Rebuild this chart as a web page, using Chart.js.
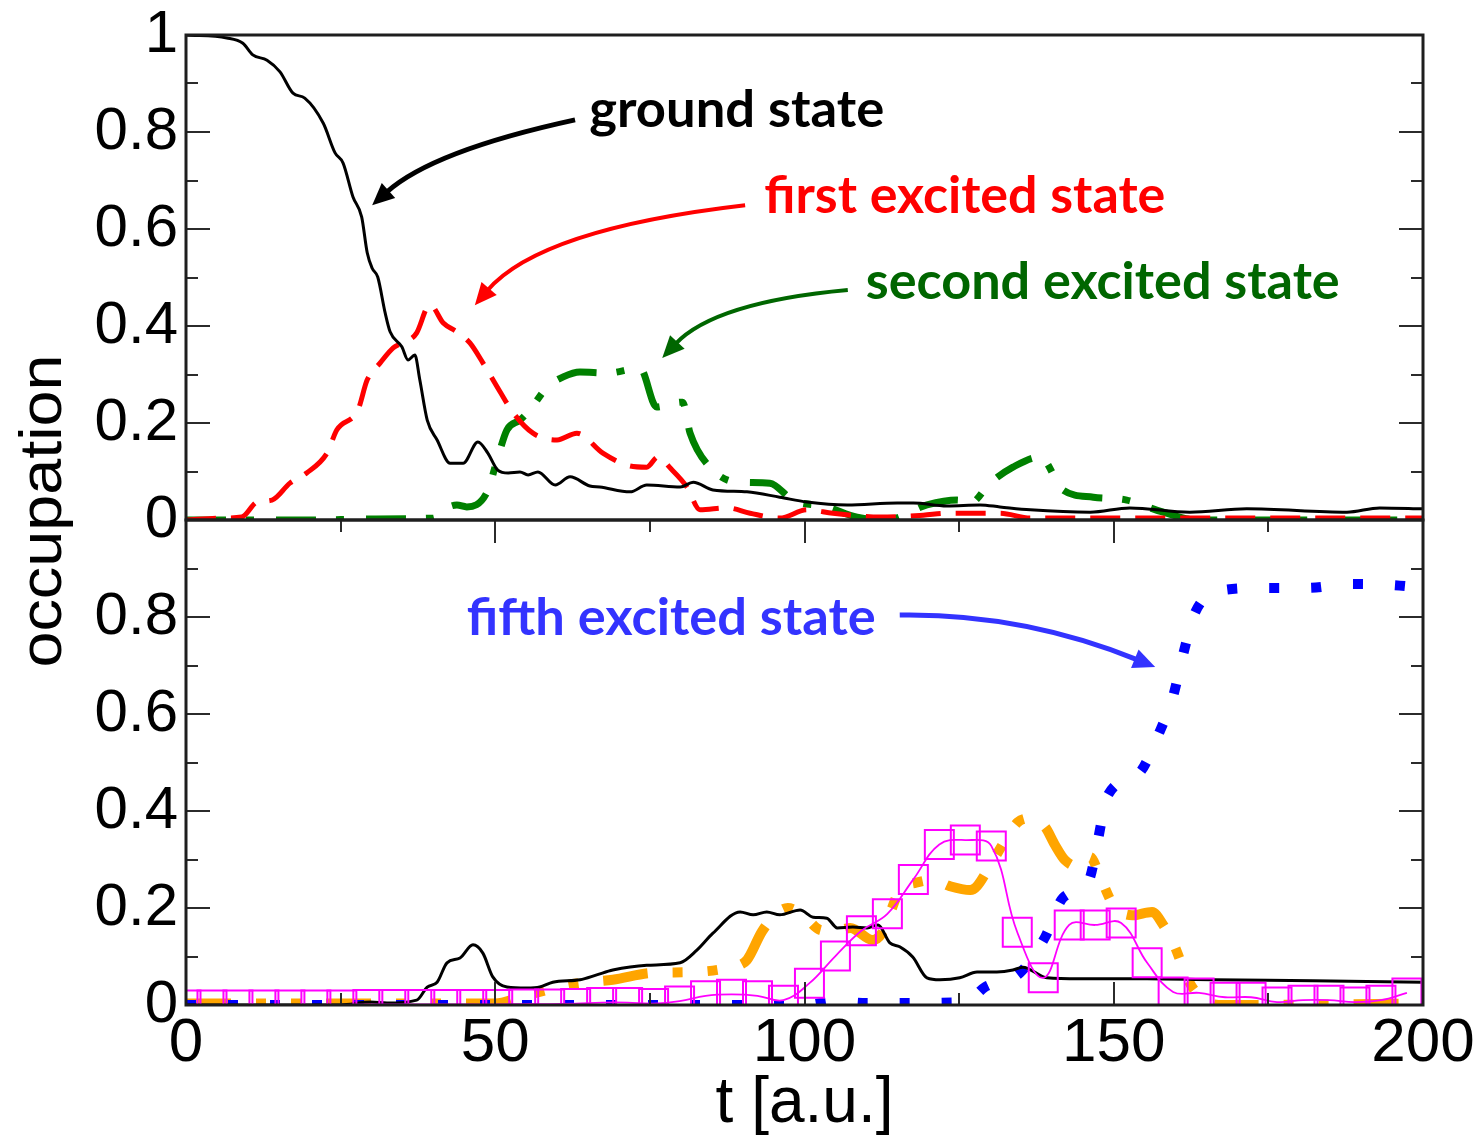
<!DOCTYPE html>
<html>
<head>
<meta charset="utf-8">
<script src="https://cdn.jsdelivr.net/npm/chart.js@4.4.1/dist/chart.umd.min.js"></script>
<style>
  html, body { margin: 0; padding: 0; background: #ffffff; }
  #wrap { width: 1483px; height: 1143px; }
</style>
</head>
<body>
<div id="wrap"><canvas id="occ" width="1483" height="1143"></canvas></div>
<script>
// ---- upper panel: time (a.u.) and occupations ----
const groundT = [0, 6.6, 9.2, 10.8, 13.1, 15.2, 17.3, 19.2, 22.2, 24.1, 25.4, 27.0, 28.4, 29.3, 30.1, 31.0, 32.2, 33.0, 34.9, 35.9, 37.0, 37.8, 39.0, 40.6, 42.7, 44.8, 47.2, 48.8, 50.4, 52.1, 54.0, 55.3, 56.9, 59.7, 62.1, 65.3, 66.9, 71.8, 74.5, 79.9, 82.0, 85.2, 90.7, 96.0, 100.4, 106.9, 115.0, 117.6, 123.0, 128.4, 131.6, 136.5, 146.2, 152.6, 162.3, 171.5, 187.7, 193.0, 200];
const groundV = [1.0, 0.994, 0.983, 0.959, 0.948, 0.924, 0.880, 0.870, 0.818, 0.757, 0.736, 0.666, 0.625, 0.551, 0.519, 0.501, 0.427, 0.388, 0.357, 0.330, 0.340, 0.289, 0.206, 0.165, 0.117, 0.117, 0.161, 0.138, 0.103, 0.097, 0.099, 0.093, 0.099, 0.072, 0.089, 0.070, 0.068, 0.058, 0.072, 0.068, 0.078, 0.062, 0.058, 0.047, 0.037, 0.031, 0.035, 0.035, 0.029, 0.031, 0.027, 0.021, 0.016, 0.025, 0.016, 0.023, 0.016, 0.025, 0.023];

const firstT = [0, 5.5, 9, 11.5, 13.9, 16.8, 19.5, 22.8, 24.4, 27.8, 29.3, 31.4, 33.5, 34.9, 37.3, 39.0, 39.5, 41.6, 43.8, 45.9, 48.0, 50.8, 52.9, 56.1, 60.0, 63.2, 67.4, 71.3, 74.5, 76.3, 78.3, 81.0, 83.1, 87.5, 91.2, 96.0, 100.4, 104.6, 112.2, 119.2, 123.0, 127.2, 131.6, 136.5, 150, 170, 200];
const firstV = [0, 0.004, 0.006, 0.037, 0.041, 0.076, 0.097, 0.138, 0.186, 0.227, 0.289, 0.324, 0.355, 0.365, 0.386, 0.439, 0.443, 0.406, 0.388, 0.365, 0.324, 0.264, 0.221, 0.179, 0.165, 0.179, 0.138, 0.113, 0.109, 0.130, 0.107, 0.068, 0.021, 0.025, 0.014, 0.004, 0.021, 0.014, 0.006, 0.010, 0.014, 0.014, 0.014, 0.004, 0.004, 0.004, 0.004];

const secondT = [0, 20, 30, 40, 41.6, 43.8, 45.4, 48.7, 50.3, 51.9, 54, 55.6, 58.4, 61, 63.7, 68.1, 73.4, 76.1, 78.5, 80.3, 81.5, 84.7, 89.1, 94.4, 98.1, 103.6, 108.5, 113.3, 119.8, 124.7, 126.8, 130, 133.7, 138.1, 141.8, 146.7, 152.1, 158, 163.5, 180, 200];
const secondV = [0, 0, 0.002, 0.004, 0.021, 0.031, 0.027, 0.058, 0.124, 0.186, 0.206, 0.227, 0.274, 0.295, 0.305, 0.303, 0.313, 0.233, 0.240, 0.243, 0.179, 0.109, 0.078, 0.076, 0.041, 0.027, 0.006, 0.0, 0.031, 0.041, 0.035, 0.076, 0.109, 0.130, 0.062, 0.047, 0.041, 0.016, 0.0, 0.0, 0.0];

// ---- lower panel ----
const thirdT = [0, 25, 29.8, 32.5, 37.3, 39.0, 40.6, 42.2, 44.3, 46.4, 48.0, 49.6, 51.9, 55.1, 57.2, 59.3, 63.7, 66.4, 69.0, 74.5, 79.9, 82.6, 85.2, 89.6, 91.7, 93.9, 96.0, 99.3, 101.4, 103.6, 105.3, 107.8, 110.1, 111.9, 113.8, 115.4, 117.5, 119.8, 121.9, 125.1, 127.9, 131.1, 133.7, 135.3, 139.2, 144.5, 155.4, 166, 182.2, 200];
const thirdV = [0, 0, 0.006, 0.004, 0.010, 0.037, 0.047, 0.087, 0.097, 0.124, 0.107, 0.058, 0.037, 0.035, 0.037, 0.047, 0.052, 0.062, 0.072, 0.082, 0.087, 0.113, 0.148, 0.192, 0.186, 0.192, 0.186, 0.196, 0.181, 0.179, 0.159, 0.161, 0.159, 0.165, 0.128, 0.120, 0.099, 0.056, 0.052, 0.056, 0.068, 0.068, 0.072, 0.078, 0.056, 0.054, 0.054, 0.052, 0.050, 0.047];

const fourthT = [0, 50, 54.3, 58, 61.4, 64.7, 69, 75.3, 82, 88, 90.7, 93.1, 95.2, 97.3, 99.8, 102.5, 105, 107.4, 111, 112.5, 114, 115.4, 118, 120.8, 123.5, 126.8, 130.8, 132.7, 134.5, 136.7, 138.9, 140.5, 142.1, 144.5, 146.2, 147.8, 150, 153, 156.2, 158, 159.6, 162.3, 164.5, 167, 200];
const fourthV = [0.003, 0.003, 0.017, 0.030, 0.041, 0.047, 0.052, 0.066, 0.068, 0.078, 0.093, 0.151, 0.185, 0.200, 0.185, 0.155, 0.152, 0.159, 0.134, 0.148, 0.195, 0.237, 0.252, 0.258, 0.245, 0.237, 0.305, 0.345, 0.377, 0.385, 0.367, 0.330, 0.299, 0.285, 0.305, 0.264, 0.205, 0.185, 0.192, 0.165, 0.128, 0.045, 0.012, 0.0, 0.003];

const fifthT = [0, 100, 105, 110, 126, 129.2, 134.8, 138.9, 141.8, 146.0, 147.5, 148.9, 154.1, 157.2, 159.6, 161.2, 163.1, 168.0, 174.8, 181.4, 188.2, 195.0, 200];
const fifthV = [0, 0, 0.008, 0.004, 0.006, 0.037, 0.066, 0.140, 0.221, 0.258, 0.344, 0.429, 0.478, 0.557, 0.637, 0.722, 0.808, 0.856, 0.860, 0.860, 0.868, 0.866, 0.860];

const squaresT = [0, 4.2, 8.4, 12.6, 16.8, 21, 25.2, 29.4, 33.6, 37.8, 42, 46.2, 50.4, 54.6, 58.8, 63, 67.2, 71.4, 75.6, 79.8, 84, 88.2, 92.4, 96.6, 100.8, 105, 109.2, 113.4, 117.6, 121.8, 126, 130.2, 134.4, 138.6, 142.8, 147, 151.2, 155.4, 159.6, 163.8, 168, 172.2, 176.4, 180.6, 184.8, 189, 193.2, 197.4];
const squaresV = [0, 0, 0, 0, 0, 0, 0, 0.001, 0.001, 0.001, 0.001, 0.001, 0.001, 0.002, 0.002, 0.003, 0.005, 0.005, 0.003, 0.008, 0.019, 0.022, 0.019, 0.010, 0.045, 0.101, 0.153, 0.188, 0.259, 0.331, 0.340, 0.328, 0.150, 0.056, 0.165, 0.165, 0.169, 0.087, 0.027, 0.025, 0.016, 0.016, 0.006, 0.010, 0.010, 0.006, 0.010, 0.025];

// axis ticks
const xLabelTicks = [0, 50, 100, 150, 200];
const xMinorTicks = [25, 75, 125, 175];
const xMajorInner = [50, 100, 150];
const yTopLabelTicks = [0, 0.2, 0.4, 0.6, 0.8, 1];
const yBotLabelTicks = [0, 0.2, 0.4, 0.6, 0.8];
const yMajorInner = [0.2, 0.4, 0.6, 0.8];
const yMinorInner = [0.1, 0.3, 0.5, 0.7, 0.9];

// callouts: text, colour, text anchor (t, occupation), arrow start / control / tip
const callouts = [
  { text: 'ground state', color: '#000000', panel: 'yTop', at: [65.2, 0.810], width: 295,
    arrow: [[62.9, 0.825], [39.8, 0.761], [30.1, 0.649]], lw: 5 },
  { text: 'first excited state', color: '#ff0000', panel: 'yTop', at: [93.5, 0.633], width: 401,
    arrow: [[90.4, 0.649], [57.2, 0.600], [46.7, 0.443]], lw: 4 },
  { text: 'second excited state', color: '#006600', panel: 'yTop', at: [109.9, 0.456], width: 474,
    arrow: [[107.0, 0.474], [85.5, 0.449], [77.0, 0.334]], lw: 4 },
  { text: 'fifth excited state', color: '#3333ff', panel: 'yBot', at: [45.4, 0.763], width: 409,
    arrow: [[115.4, 0.804], [135.2, 0.808], [156.7, 0.697]], lw: 5 }
];

const pairs = (xs, ys) => xs.map((x, i) => ({ x: x, y: ys[i] }));
const smooth = { pointRadius: 0, pointHoverRadius: 0, fill: false, cubicInterpolationMode: 'monotone' };

const panelDecor = {
  id: 'panelDecor',
  afterDatasetsDraw(chart) {
    const { ctx } = chart;
    const x = chart.scales.x, yTop = chart.scales.yTop, yBot = chart.scales.yBot;
    ctx.save();
    ctx.strokeStyle = '#2b2b2b';
    ctx.lineWidth = 2;
    ctx.beginPath();
    [yTop, yBot].forEach(s => {
      yMajorInner.concat(yMinorInner).forEach(v => {
        const py = Math.round(s.getPixelForValue(v));
        const len = yMajorInner.includes(v) ? 24 : 12;
        ctx.moveTo(x.left, py); ctx.lineTo(x.left + len, py);
        ctx.moveTo(x.right, py); ctx.lineTo(x.right - len, py);
      });
    });
    xMajorInner.concat(xMinorTicks).forEach(t => {
      const px = Math.round(x.getPixelForValue(t));
      const len = xMajorInner.includes(t) ? 23 : 12;
      ctx.moveTo(px, yBot.top); ctx.lineTo(px, yBot.top + len);
      ctx.moveTo(px, yBot.bottom); ctx.lineTo(px, yBot.bottom - len);
    });
    ctx.stroke();
    ctx.strokeStyle = '#1e1e1e';
    ctx.lineWidth = 3;
    ctx.strokeRect(x.left, yTop.top, x.right - x.left, yTop.bottom - yTop.top);
    ctx.strokeRect(x.left, yBot.top, x.right - x.left, yBot.bottom - yBot.top);
    ctx.restore();
  },
  afterDraw(chart) {
    const { ctx } = chart;
    const x = chart.scales.x;
    ctx.save();
    // shared y title
    ctx.fillStyle = '#000';
    ctx.font = '60px "Liberation Sans", Arial, sans-serif';
    ctx.textAlign = 'center';
    ctx.textBaseline = 'middle';
    const yt = 'occupation';
    const sx = 313 / ctx.measureText(yt).width;
    ctx.translate(44, 511);
    ctx.rotate(-Math.PI / 2);
    ctx.scale(sx, 1);
    ctx.fillText(yt, 0, 0);
    ctx.restore();

    callouts.forEach(c => {
      const s = chart.scales[c.panel];
      const P = p => ({ x: x.getPixelForValue(p[0]), y: s.getPixelForValue(p[1]) });
      const p0 = P(c.arrow[0]), cp = P(c.arrow[1]), p2 = P(c.arrow[2]);
      ctx.save();
      ctx.strokeStyle = c.color; ctx.fillStyle = c.color;
      ctx.lineWidth = c.lw; ctx.lineCap = 'butt';
      const ang = Math.atan2(p2.y - cp.y, p2.x - cp.x);
      const headLen = 22, headHalf = 10;
      const bx = p2.x - headLen * Math.cos(ang), by = p2.y - headLen * Math.sin(ang);
      ctx.beginPath();
      ctx.moveTo(p0.x, p0.y);
      ctx.quadraticCurveTo(cp.x, cp.y, bx + 3 * Math.cos(ang), by + 3 * Math.sin(ang));
      ctx.stroke();
      ctx.beginPath();
      ctx.moveTo(p2.x, p2.y);
      ctx.lineTo(bx - headHalf * Math.sin(ang), by + headHalf * Math.cos(ang));
      ctx.lineTo(bx + headHalf * Math.sin(ang), by - headHalf * Math.cos(ang));
      ctx.closePath();
      ctx.fill();
      // label
      const a = P(c.at);
      ctx.font = 'bold 52px Lato, "Open Sans", sans-serif';
      ctx.textAlign = 'left';
      ctx.textBaseline = 'alphabetic';
      const k = c.width / ctx.measureText(c.text).width;
      ctx.translate(a.x, a.y);
      ctx.scale(k, 1);
      ctx.fillText(c.text, 0, 0);
      ctx.restore();
    });
  }
};

const tickFont = { family: '"Liberation Sans", Arial, sans-serif', size: 60 };
// keep the plot frame where the layout padding puts it
const noOverflow = s => { s.paddingTop = 0; s.paddingBottom = 0; s.paddingLeft = 0; s.paddingRight = 0; };

new Chart(document.getElementById('occ'), {
  type: 'line',
  data: {
    datasets: [
      Object.assign({ label: 'ground state', data: pairs(groundT, groundV), yAxisID: 'yTop',
        borderColor: '#000000', borderWidth: 3 }, smooth),
      Object.assign({ label: 'first excited state', data: pairs(firstT, firstV), yAxisID: 'yTop',
        borderColor: '#ff0000', borderWidth: 5, borderDash: [30, 15] }, smooth),
      Object.assign({ label: 'second excited state', data: pairs(secondT, secondV), yAxisID: 'yTop',
        borderColor: '#008000', borderWidth: 7, borderDash: [40, 20, 8, 22] }, smooth),
      { label: 'sixth excited state', data: pairs(squaresT, squaresV), yAxisID: 'yBot',
        borderColor: '#ff00ff', borderWidth: 1.8, tension: 0.4, fill: false,
        pointStyle: 'rect', pointRadius: 20.5, pointHoverRadius: 20.5, pointBorderWidth: 2,
        pointBorderColor: '#ff00ff', pointBackgroundColor: 'rgba(255,255,255,0)' },
      Object.assign({ label: 'third excited state', data: pairs(thirdT, thirdV), yAxisID: 'yBot',
        borderColor: '#000000', borderWidth: 3 }, smooth),
      Object.assign({ label: 'fifth excited state', data: pairs(fifthT, fifthV), yAxisID: 'yBot',
        borderColor: '#0000ff', borderWidth: 10, borderDash: [10, 32] }, smooth),
      Object.assign({ label: 'fourth excited state', data: pairs(fourthT, fourthV), yAxisID: 'yBot',
        borderColor: '#ffa500', borderWidth: 10, borderDash: [45, 25, 10, 25, 10, 25] }, smooth)
    ]
  },
  options: {
    responsive: false,
    animation: false,
    devicePixelRatio: 1,
    layout: { padding: { top: 35, right: 60, bottom: 0, left: 0 } },
    plugins: { legend: { display: false }, tooltip: { enabled: false } },
    events: [],
    scales: {
      x: {
        type: 'linear', position: 'bottom', min: 0, max: 200,
        afterBuildTicks: s => { s.ticks = xLabelTicks.map(v => ({ value: v })); },
        afterFit: s => { s.height = 138; noOverflow(s); },
        ticks: { font: { family: tickFont.family, size: 62 }, color: '#000', padding: 2,
          maxRotation: 0, autoSkip: false, callback: v => String(v) },
        grid: { display: false, drawTicks: false },
        border: { display: false },
        title: { display: true, text: 't [a.u.]', color: '#000',
          font: { family: tickFont.family, size: 64 }, padding: { top: 0, bottom: 0 } }
      },
      yBot: {
        type: 'linear', position: 'left', stack: 'panels', stackWeight: 1, weight: 0,
        min: 0, max: 1,
        afterBuildTicks: s => { s.ticks = yBotLabelTicks.map(v => ({ value: v })); },
        afterFit: s => { s.width = 186; noOverflow(s); },
        ticks: { font: tickFont, color: '#000', padding: 8, autoSkip: false, callback: v => String(v) },
        grid: { display: false, drawTicks: false },
        border: { display: false }
      },
      yTop: {
        type: 'linear', position: 'left', stack: 'panels', stackWeight: 1, weight: 1,
        min: 0, max: 1,
        afterBuildTicks: s => { s.ticks = yTopLabelTicks.map(v => ({ value: v })); },
        afterFit: s => { s.width = 186; noOverflow(s); },
        ticks: { font: tickFont, color: '#000', padding: 8, autoSkip: false, callback: v => String(v) },
        grid: { display: false, drawTicks: false },
        border: { display: false }
      }
    }
  },
  plugins: [panelDecor]
});
</script>
</body>
</html>
